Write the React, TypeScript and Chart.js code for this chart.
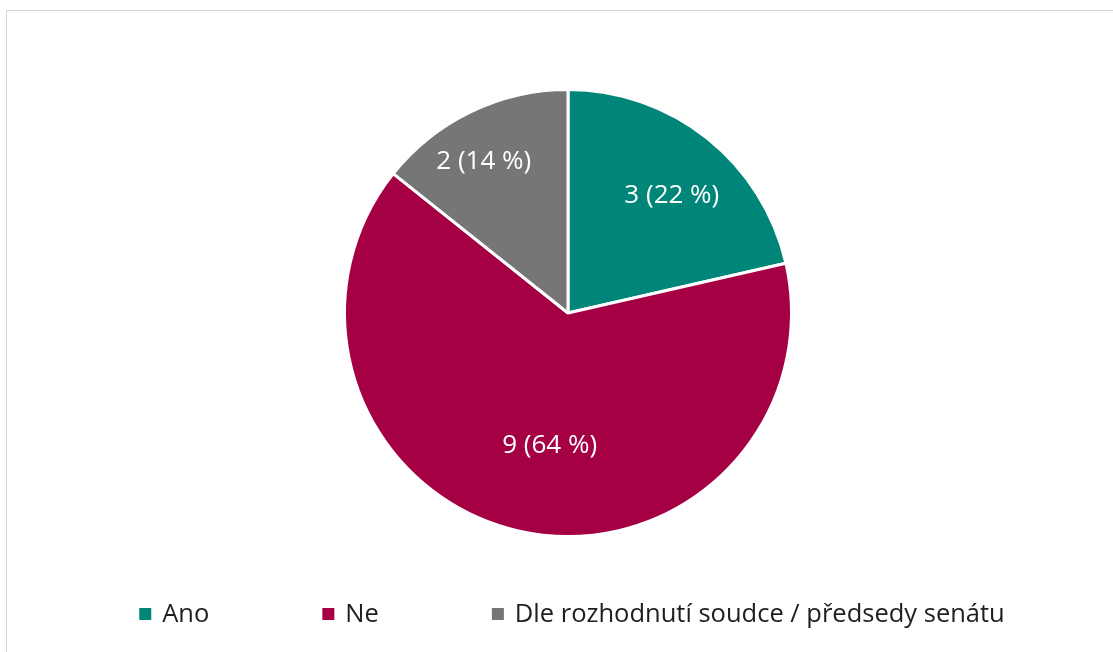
import React, { useEffect, useRef } from "react";
import { Chart, registerables } from "chart.js";

Chart.register(...registerables);

const categories: string[] = ["Ano", "Ne", "Dle rozhodnutí soudce / předsedy senátu"];
const counts: number[] = [3, 9, 2];
const percentLabels: string[] = ["22 %", "64 %", "14 %"];
const sliceColors: string[] = ["#008678", "#A50044", "#767676"];

const FONT = "'Open Sans', 'DejaVu Sans', sans-serif";

const sliceLabelPlugin = {
  id: "sliceLabels",
  afterDatasetsDraw(chart: any, _args: any, opts: any) {
    const ctx = chart.ctx;
    const meta = chart.getDatasetMeta(0);
    const placement = opts.placement || [];
    ctx.save();
    ctx.fillStyle = "#ffffff";
    ctx.font = `${opts.fontSize}px ${FONT}`;
    ctx.textAlign = "center";
    ctx.textBaseline = "middle";
    meta.data.forEach((arc: any, i: number) => {
      const p = arc.getProps(["x", "y", "startAngle", "endAngle", "outerRadius"], true);
      const [frac, shiftDeg] = placement[i] || [0.7, 0];
      const mid = (p.startAngle + p.endAngle) / 2 + (shiftDeg * Math.PI) / 180;
      const r = p.outerRadius * frac;
      const x = p.x + Math.cos(mid) * r;
      const y = p.y + Math.sin(mid) * r;
      const text = `${chart.data.datasets[0].data[i]} (${percentLabels[i]})`;
      ctx.fillText(text, x, y);
    });
    ctx.restore();
  },
};

const bottomLegendPlugin = {
  id: "bottomLegend",
  afterDraw(chart: any, _args: any, opts: any) {
    const ctx = chart.ctx;
    const labels: string[] = chart.data.labels;
    const colors: string[] = chart.data.datasets[0].backgroundColor;
    ctx.save();
    ctx.font = `${opts.fontSize}px ${FONT}`;
    const box = opts.boxSize;
    const boxGap = opts.boxGap;
    const itemGap = opts.itemGap;
    const widths = labels.map((l) => box + boxGap + ctx.measureText(l).width);
    const total = widths.reduce((a, b) => a + b, 0) + itemGap * (labels.length - 1);
    let x = opts.centerX - total / 2;
    const y = opts.y;
    labels.forEach((l, i) => {
      ctx.fillStyle = colors[i];
      ctx.fillRect(x, y - box / 2, box, box);
      ctx.fillStyle = opts.color;
      ctx.textAlign = "left";
      ctx.textBaseline = "middle";
      ctx.fillText(l, x + box + boxGap, y + 1);
      x += widths[i] + itemGap;
    });
    ctx.restore();
  },
};

export default function App() {
  const canvasRef = useRef<HTMLCanvasElement | null>(null);

  useEffect(() => {
    document.body.style.margin = "0";
    const canvas = canvasRef.current;
    if (!canvas) return;
    const chart = new Chart(canvas, {
      type: "pie",
      data: {
        labels: categories,
        datasets: [
          {
            data: counts,
            backgroundColor: sliceColors,
            borderColor: "#ffffff",
            borderWidth: 3,
          },
        ],
      },
      options: {
        responsive: false,
        animation: false,
        devicePixelRatio: 1,
        layout: { padding: { left: 343, right: 320, top: 88, bottom: 114 } },
        plugins: {
          legend: { display: false },
          tooltip: { enabled: false },
          sliceLabels: {
            fontSize: 26,
            placement: [
              [0.7, 3],
              [0.6, -5],
              [0.775, -3.4],
            ],
          },
          bottomLegend: {
            fontSize: 25.5,
            boxSize: 12,
            boxGap: 11,
            itemGap: 113,
            centerX: 572,
            y: 614,
            color: "#1e1e1e",
          },
        } as any,
      },
      plugins: [sliceLabelPlugin, bottomLegendPlugin],
    });
    return () => chart.destroy();
  }, []);

  return (
    <div
      style={{
        position: "fixed",
        left: 0,
        top: 0,
        width: 1113,
        height: 652,
        overflow: "hidden",
        background: "#ffffff",
      }}
    >
      <div
        style={{
          position: "absolute",
          left: 6,
          top: 10,
          width: 1200,
          height: 800,
          border: "1px solid #d4d4d4",
          boxSizing: "border-box",
        }}
      />
      <canvas
        ref={canvasRef}
        width={1113}
        height={652}
        style={{ position: "absolute", left: 0, top: 0, width: 1113, height: 652 }}
      />
    </div>
  );
}
